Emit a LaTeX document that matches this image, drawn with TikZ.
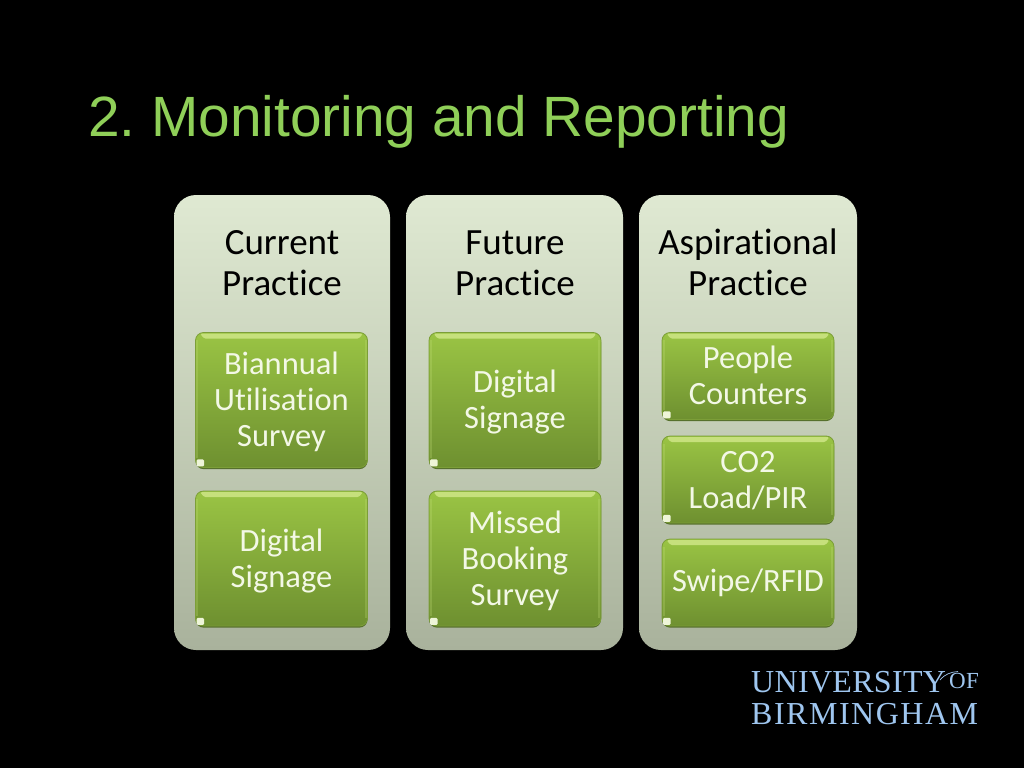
\documentclass[tikz,border=0pt]{standalone}
\usepackage{fontspec}
\usetikzlibrary{shadows}
\setmainfont[Ligatures=CommonOff]{Carlito}
\newfontfamily\titlefont{Liberation Sans}
\newfontfamily\logofonta[LetterSpace=1]{Liberation Serif}
\newfontfamily\logofontb[LetterSpace=4.7]{Liberation Serif}
\definecolor{titlegreen}{HTML}{8FCF58}
\definecolor{logoblue}{HTML}{9FC6EF}
\definecolor{paneltop}{HTML}{DFE9D2}
\definecolor{panelbot}{HTML}{A9B29C}
\definecolor{boxtop}{HTML}{9AC444}
\definecolor{boxmid}{HTML}{94BC41}
\definecolor{boxbot}{HTML}{6E9030}
\definecolor{boxedge}{HTML}{7C9E38}
\definecolor{boxshadow}{HTML}{56702C}
\definecolor{hilite}{HTML}{C6E07C}
\definecolor{corner}{HTML}{EEF5D8}
\definecolor{boxtext}{HTML}{F3F8E6}
\tikzset{
  x=1pt,y=-1pt,
  panelbox/.style={rounded corners=22pt,top color=paneltop,bottom color=panelbot,draw=none,inner sep=0pt},
  itembox/.style={rounded corners=8pt,top color=boxtop,middle color=boxmid,bottom color=boxbot,draw=boxedge,line width=.8pt,
    general shadow={shadow yshift=-1.6pt,fill=boxshadow},
    inner sep=0pt,align=center,text=boxtext,font=\fontsize{32.5}{36}\selectfont,minimum width=172pt},
  headtext/.style={align=center,text=black,inner sep=0pt,font=\fontsize{37}{41}\selectfont},
}
\newcommand{\lowered}[2][7pt]{\raisebox{0pt}[\dimexpr\height+#1\relax][\depth]{\begin{tabular}{@{}c@{}}#2\end{tabular}}}
\newcommand{\gloss}[1]{%
  \fill[hilite,rounded corners=1.5pt] ([xshift=5pt,yshift=-1.5pt]#1.north west) -- ([xshift=-5pt,yshift=-1.5pt]#1.north east)
     -- ([xshift=-9pt,yshift=-6.5pt]#1.north east) -- ([xshift=9pt,yshift=-6.5pt]#1.north west) -- cycle;
  \fill[hilite,opacity=.25] ([xshift=1pt,yshift=-8pt]#1.north west) rectangle ([xshift=3pt,yshift=10pt]#1.south west);
  \fill[hilite,opacity=.25] ([xshift=-1pt,yshift=-8pt]#1.north east) rectangle ([xshift=-3pt,yshift=8pt]#1.south east);
  \fill[corner,rounded corners=1.2pt] ([xshift=1.5pt,yshift=8.5pt]#1.south west) rectangle ([xshift=9pt,yshift=1.5pt]#1.south west);
}
\begin{document}
\begin{tikzpicture}
\useasboundingbox (0,0) rectangle (1024,768);
\fill[black] (0,0) rectangle (1024,768);
\node[anchor=base west,inner sep=0pt,text=titlegreen,font=\titlefont\fontsize{56.8}{60}\selectfont] (title) at (88,136) {2.\ Monitoring and Reporting};

\node[panelbox,minimum width=216pt,minimum height=455pt] (p1) at (282,422.5) {};
\node[panelbox,minimum width=217pt,minimum height=455pt] (p2) at (514.5,422.5) {};
\node[panelbox,minimum width=218pt,minimum height=455pt] (p3) at (748,422.5) {};

\node[headtext] (h1) at (282,263.5) {Current\\Practice};
\node[headtext] (h2) at (515,263.5) {Future\\Practice};
\node[headtext] (h3) at (748,262.5) {Aspirational\\Practice};

\node[itembox,minimum height=135pt] (a1) at (281.5,400) {\lowered{Biannual\\Utilisation\\Survey}};
\node[itembox,minimum height=135pt] (a2) at (281.5,558.5) {\lowered{Digital\\Signage}};
\node[itembox,minimum height=135pt] (b1) at (515,400) {\lowered{Digital\\Signage}};
\node[itembox,minimum height=135pt] (b2) at (515,558.5) {\lowered{Missed\\Booking\\Survey}};
\node[itembox,minimum height=87pt] (c1) at (748,376) {\lowered{People\\Counters}};
\node[itembox,minimum height=87pt] (c2) at (748,479.5) {\lowered{CO2\\Load/PIR}};
\node[itembox,minimum height=87pt] (c3) at (748,582.5) {\lowered[4pt]{Swipe/RFID}};
\gloss{a1}\gloss{a2}\gloss{b1}\gloss{b2}\gloss{c1}\gloss{c2}\gloss{c3}

\node[anchor=base west,inner sep=0pt,text=logoblue,font=\logofonta\fontsize{32}{32}\selectfont] (u1) at (751,692.5) {UNIVERSITY};
\node[anchor=base west,inner sep=0pt,text=logoblue,font=\logofonta\fontsize{23}{23}\selectfont] (u2) at (949,688.5) {OF};
\node[anchor=base west,inner sep=0pt,text=logoblue,font=\logofontb\fontsize{32}{32}\selectfont] (u3) at (751,724) {BIRMINGHAM};
\draw[logoblue,line width=.7pt] (940,680) .. controls (945,674) and (951,672) .. (958,671.5);
\end{tikzpicture}
\end{document}
